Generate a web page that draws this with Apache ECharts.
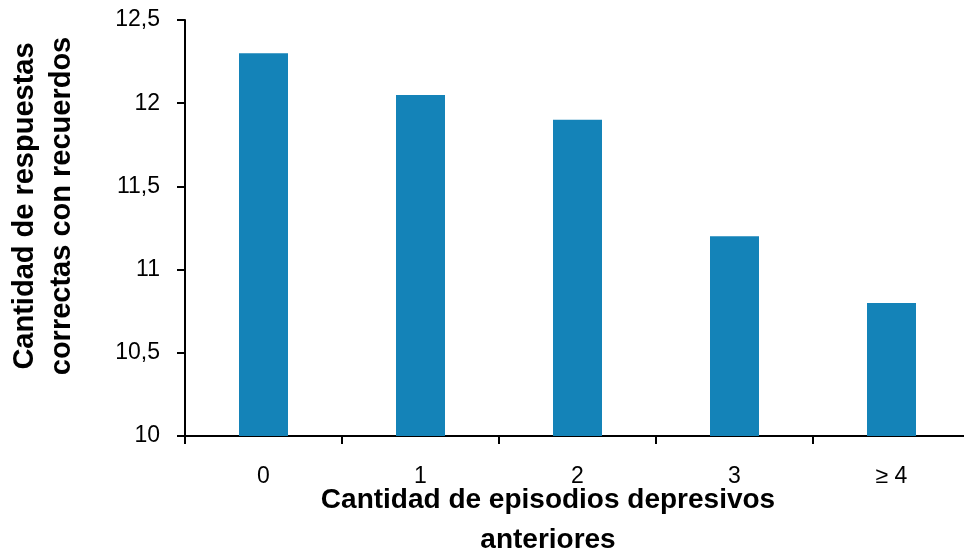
<!DOCTYPE html>
<html>
<head>
<meta charset="utf-8">
<script src="https://cdn.jsdelivr.net/npm/echarts@6/dist/echarts.min.js"></script>
<style>
    html, body { margin: 0; padding: 0; background: #fff; }
    #chart { width: 964px; height: 552px; }
</style>
</head>
<body>
<div id="chart"></div>
<script>
    // datos
    var categories = ["0", "1", "2", "3", "≥ 4"];
    var values = [12.3, 12.05, 11.9, 11.2, 10.8];
    var yMin = 10;
    var yMax = 12.5;
    var yStep = 0.5;

    var font = "Liberation Sans";
    var chart = echarts.init(document.getElementById("chart"));

    chart.setOption({
        animation: false,
        grid: {
            left: 185,
            top: 20,
            bottom: 116,
            width: 785,
            outerBoundsMode: "none",
            containLabel: false
        },
        xAxis: {
            type: "category",
            data: categories,
            axisLine: { lineStyle: { color: "#000", width: 2 } },
            axisTick: { show: true, length: 8, lineStyle: { color: "#000", width: 2 } },
            axisLabel: { color: "#000", fontSize: 23, fontFamily: font, margin: 29 }
        },
        yAxis: {
            type: "value",
            min: yMin,
            max: yMax,
            interval: yStep,
            splitLine: { show: false },
            axisLine: { show: true, lineStyle: { color: "#000", width: 2 } },
            axisTick: { show: true, length: 8, lineStyle: { color: "#000", width: 2 } },
            axisLabel: {
                color: "#000",
                fontSize: 23,
                fontFamily: font,
                margin: 25,
                formatter: function (v) {
                    return String(v).replace(".", ",");
                }
            }
        },
        graphic: [
            {
                type: "text",
                x: 25,
                y: 206,
                rotation: Math.PI / 2,
                style: {
                    text: "Cantidad de respuestas",
                    font: "bold 29px " + font,
                    fill: "#000",
                    align: "center",
                    verticalAlign: "middle"
                }
            },
            {
                type: "text",
                x: 62,
                y: 206,
                rotation: Math.PI / 2,
                style: {
                    text: "correctas con recuerdos",
                    font: "bold 29px " + font,
                    fill: "#000",
                    align: "center",
                    verticalAlign: "middle"
                }
            },
            {
                type: "text",
                x: 548,
                y: 500,
                style: {
                    text: "Cantidad de episodios depresivos",
                    font: "bold 28px " + font,
                    fill: "#000",
                    align: "center",
                    verticalAlign: "middle"
                }
            },
            {
                type: "text",
                x: 548,
                y: 540,
                style: {
                    text: "anteriores",
                    font: "bold 28px " + font,
                    fill: "#000",
                    align: "center",
                    verticalAlign: "middle"
                }
            }
        ],
        series: [
            {
                type: "bar",
                data: values,
                barWidth: 49,
                itemStyle: { color: "#1483b8" }
            }
        ]
    });
</script>
</body>
</html>
